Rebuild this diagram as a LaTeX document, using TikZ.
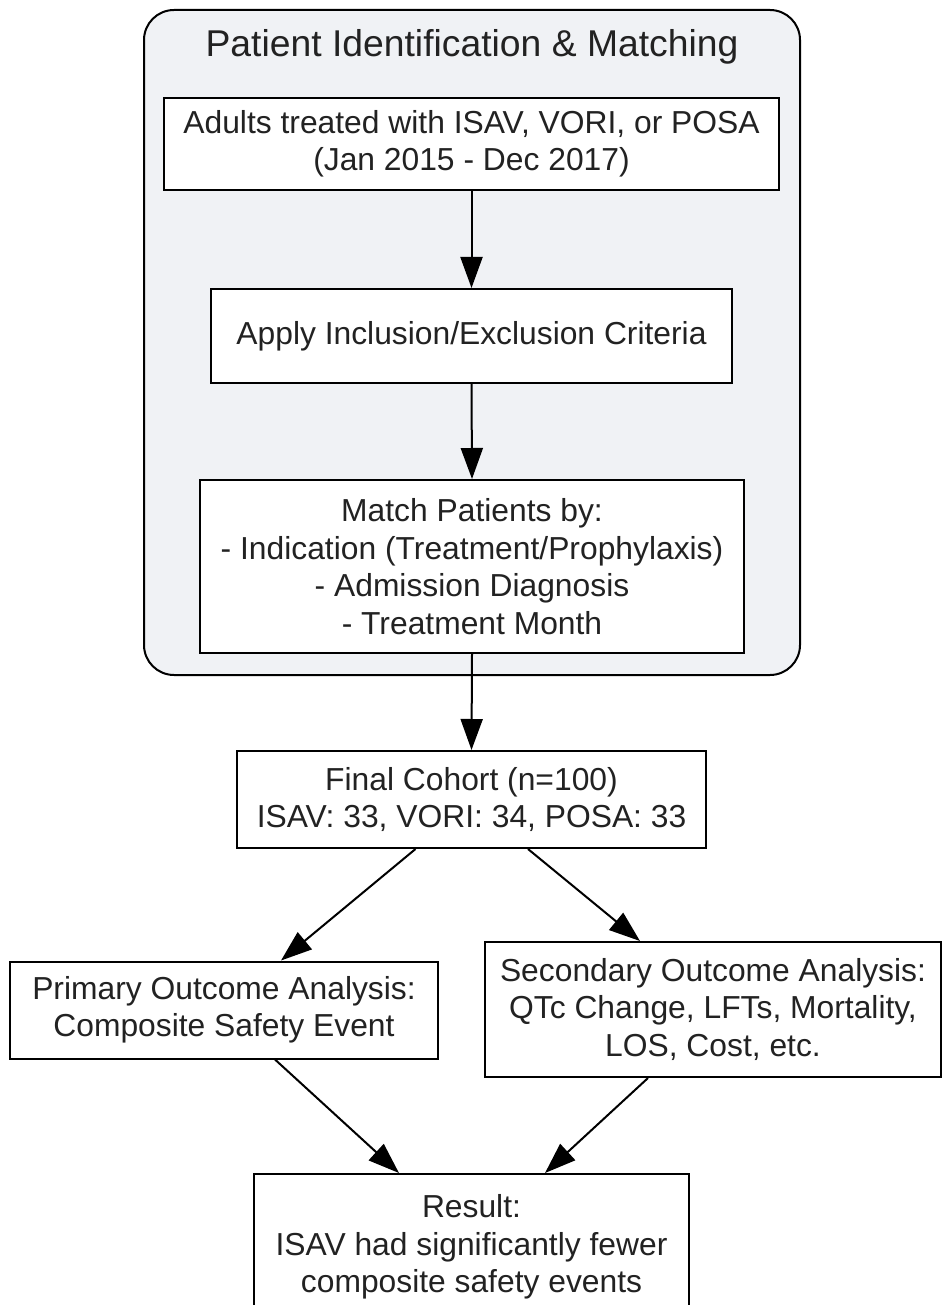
\documentclass[tikz,border=0pt]{standalone}
\usepackage{fontspec}
\setmainfont{Liberation Sans}
\usetikzlibrary{arrows.meta}
\definecolor{clusterfill}{RGB}{240,242,245}
\definecolor{txt}{RGB}{34,34,34}
\begin{document}
\begin{tikzpicture}[x=1pt,y=-1pt,
  box/.style={draw=black, line width=2pt, fill=white, align=center, inner sep=0pt,
    text=txt, font=\fontsize{31.8}{37.5}\selectfont},
  arr/.style={line width=2pt, -{Triangle[length=31pt,width=22pt]}},
  clusterbox/.style={draw=black, line width=2pt, fill=clusterfill, rounded corners=30pt}]
\useasboundingbox (0,0) rectangle (944,1305);
\fill[white] (0,0) rectangle (944,1305);
\draw[clusterbox] (144,10) rectangle (800,675);
\node[text=txt, font=\fontsize{37.3}{44}\selectfont] (title) at (472,47) {Patient Identification \& Matching};
\node[box, minimum width=615pt, minimum height=92pt] (b1) at (471.5,144)
  {Adults treated with ISAV, VORI, or POSA\\(Jan 2015 - Dec 2017)};
\node[box, minimum width=521pt, minimum height=94pt] (b2) at (471.5,336)
  {Apply Inclusion/Exclusion Criteria};
\node[box, minimum width=544pt, minimum height=173pt] (b3) at (472,566.5)
  {Match Patients by:\\- Indication (Treatment/Prophylaxis)\\- Admission Diagnosis\\- Treatment Month};
\node[box, minimum width=469pt, minimum height=97pt] (b4) at (471.5,799.5)
  {Final Cohort (n=100)\\ISAV: 33, VORI: 34, POSA: 33};
\node[box, minimum width=428pt, minimum height=97pt] (b5) at (224,1010)
  {Primary Outcome Analysis:\\Composite Safety Event};
\node[box, minimum width=456pt, minimum height=135pt] (b6) at (713,1009.5)
  {Secondary Outcome Analysis:\\QTc Change, LFTs, Mortality,\\LOS, Cost, etc.};
\node[box, minimum width=435pt, minimum height=146pt] (b7) at (471.5,1247)
  {Result:\\ISAV had significantly fewer\\composite safety events};
\draw[arr] (b1.south) -- (b2.north);
\draw[arr] (b2.south) -- (b3.north);
\draw[arr] (b3.south) -- (b4.north);
\draw[arr] ([xshift=-56pt]b4.south) -- ([xshift=57pt]b5.north);
\draw[arr] ([xshift=56.5pt]b4.south) -- ([xshift=-73pt]b6.north);
\draw[arr] ([xshift=51pt]b5.south) -- ([xshift=-72.5pt]b7.north);
\draw[arr] ([xshift=-65pt]b6.south) -- ([xshift=73.5pt]b7.north);
\end{tikzpicture}
\end{document}
